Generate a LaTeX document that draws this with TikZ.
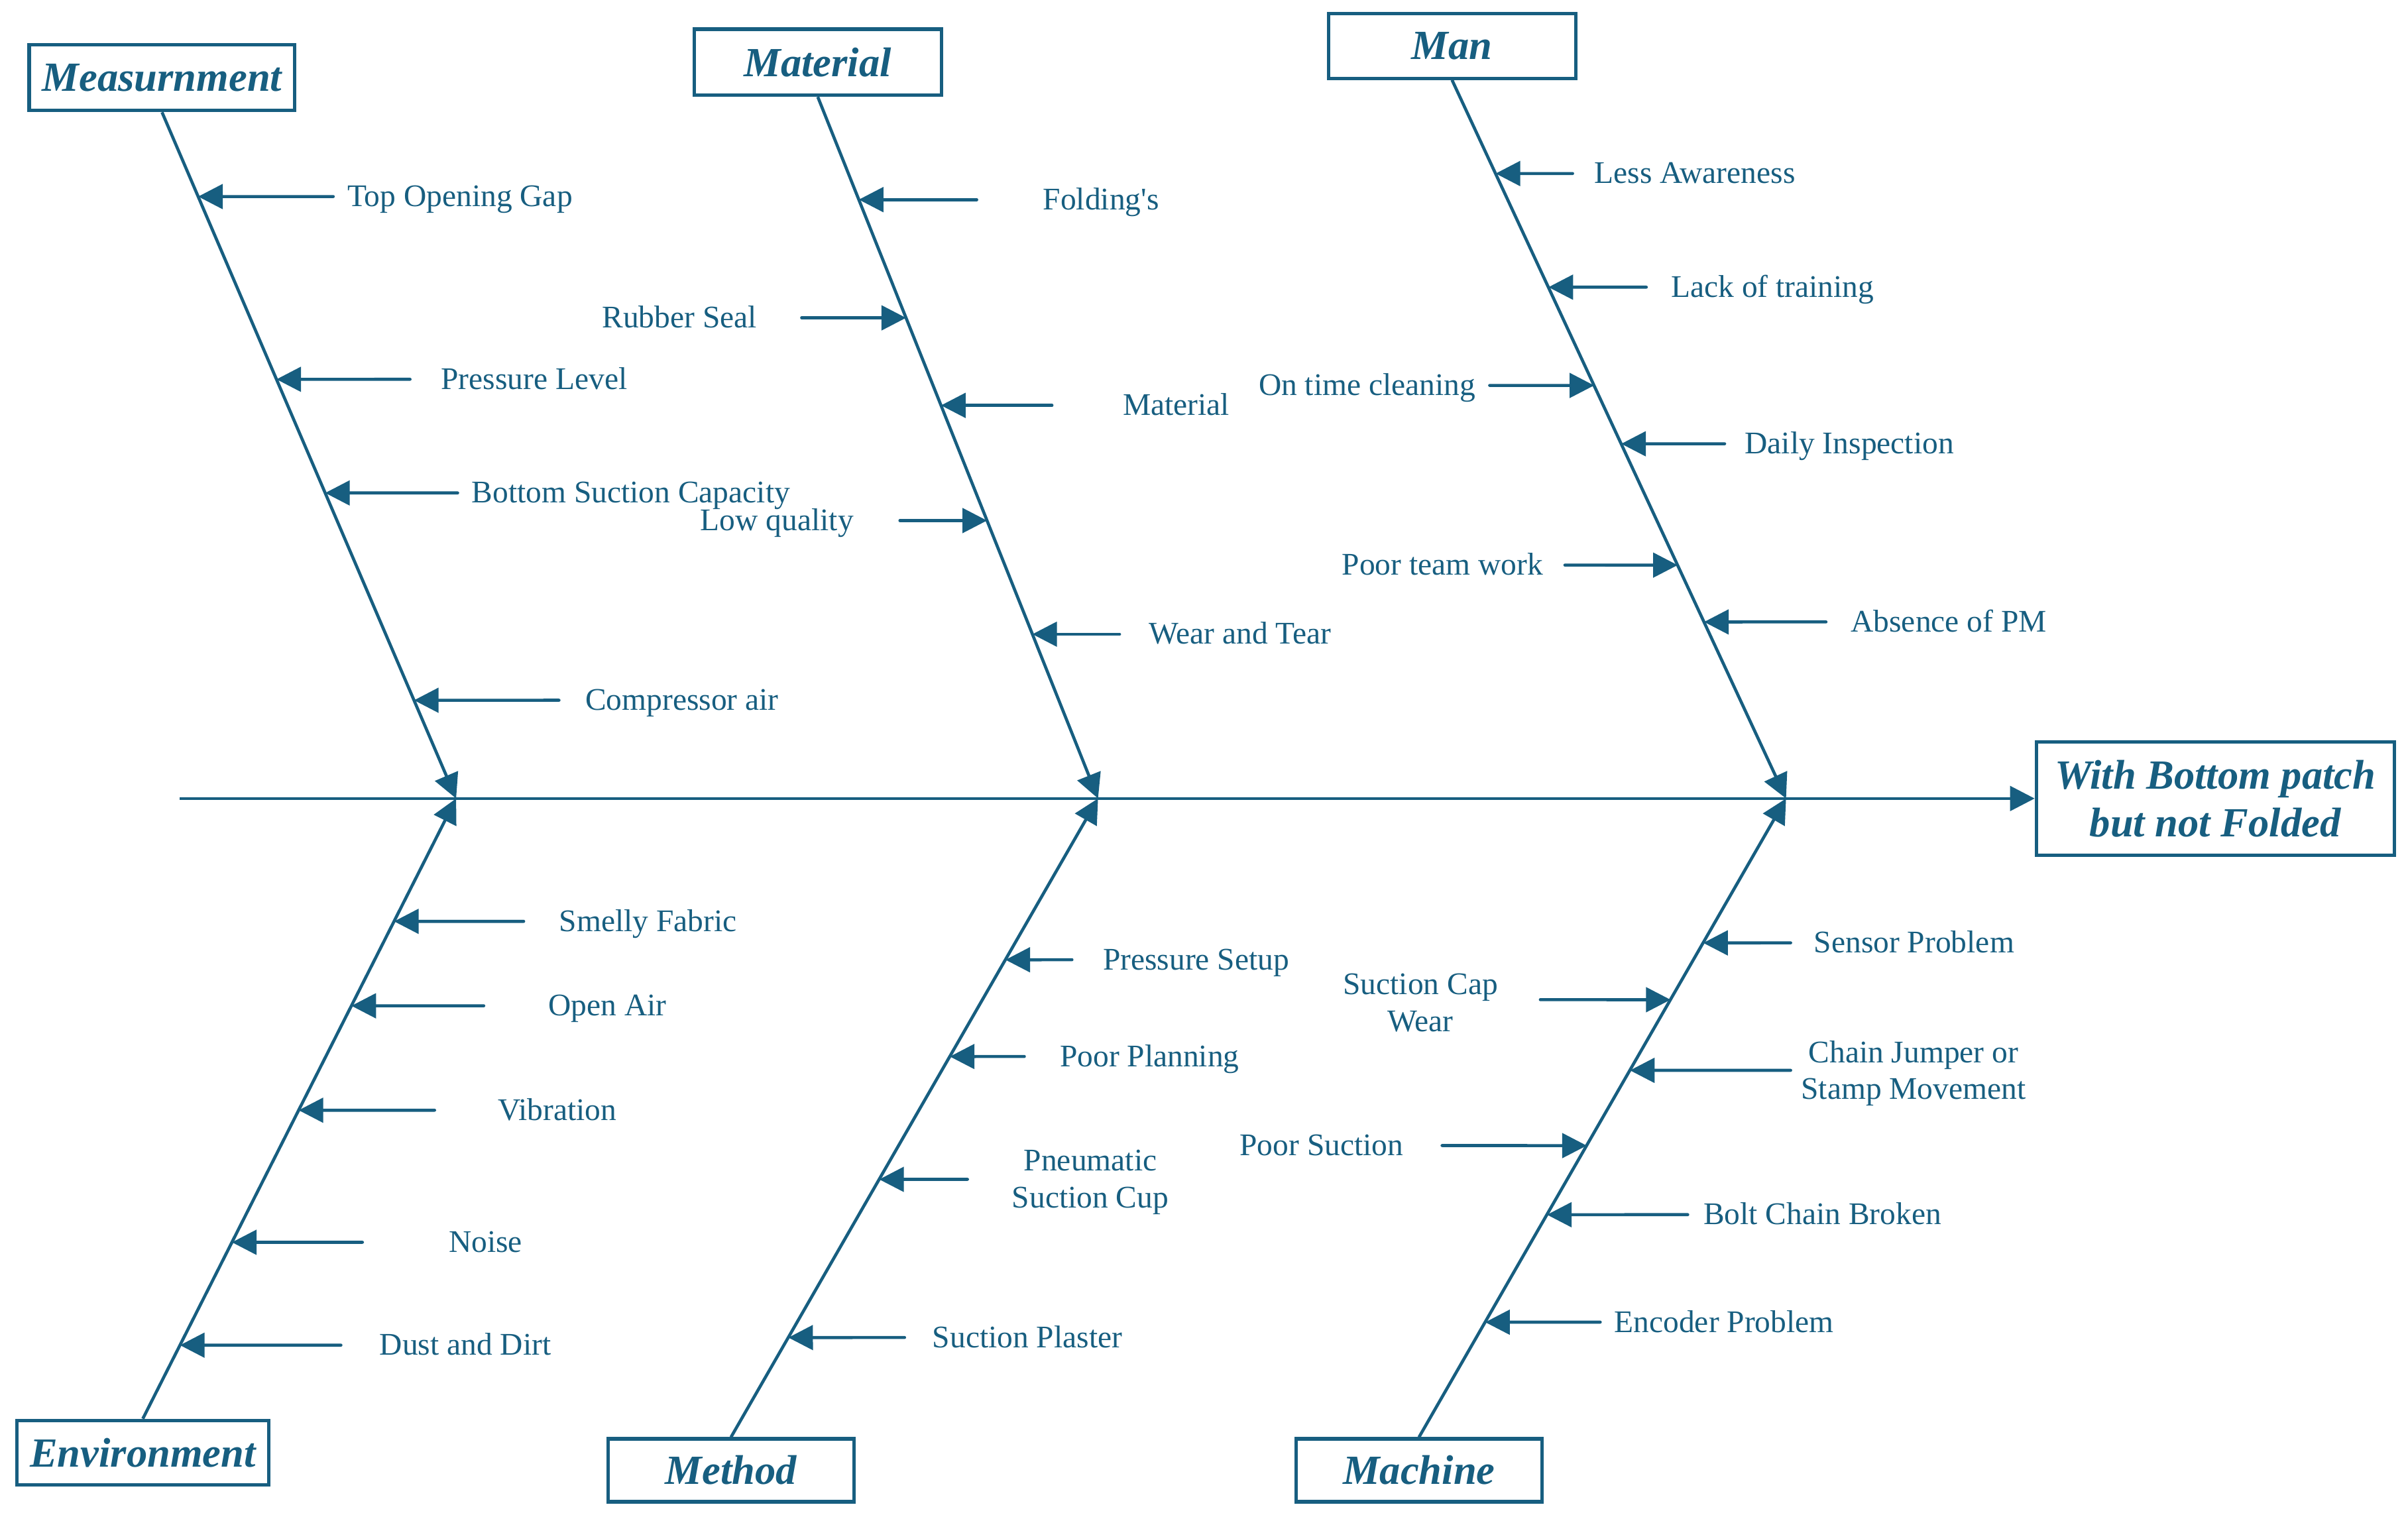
\documentclass[tikz,border=0pt]{standalone}
\usepackage{fontspec}
\setmainfont[Ligatures=TeXOff]{Liberation Serif}
\usetikzlibrary{arrows.meta}
\definecolor{fb}{RGB}{23,94,128}
\newcommand{\cause}[8]{%
  \coordinate (#1-s) at (#5,#4);
  \coordinate (#1-e) at (intersection of #2--#3 and 0,#4--1,#4);
  \node[lbl,#6] (#1) at (#7,#4) {#8};
  \draw[sub] (#1-s) -- (#1-e);
}
\begin{document}
\begin{tikzpicture}[x=1pt,y=-1pt,
  cat/.style={draw=fb, line width=2.2pt, text=fb,
    font=\fontsize{27}{32}\selectfont\bfseries\itshape,
    minimum width=161pt, minimum height=43pt, inner sep=0pt},
  lbl/.style={text=fb, font=\fontsize{20.5}{24}\selectfont, inner sep=0pt,
    text height=13pt, text depth=0pt},
  lbltwo/.style={text height={}, text depth={}, align=center, anchor=center, yshift=-2pt},
  bone/.style={draw=fb, line width=2pt, -{Triangle[length=16pt,width=16pt]}},
  sub/.style={draw=fb, line width=2pt, line cap=round, -{Triangle[length=16pt,width=16pt]}}]
\useasboundingbox (0,0) rectangle (1568,988.8);

% category boxes and effect
\node[cat, minimum width=173pt] (meas) at (105.5,50.5) {Measurnment};
\node[cat] (mat) at (532.5,40.5) {Material};
\node[cat, minimum height=42pt] (man) at (945.5,30) {Man};
\node[cat, minimum width=164pt, minimum height=42pt] (env) at (93,946) {Environment};
\node[cat, minimum width=160pt, minimum height=41pt] (meth) at (476,957.5) {Method};
\node[cat, minimum width=160pt, minimum height=41pt] (mach) at (924,957.5) {Machine};
\node[cat, minimum width=233pt, minimum height=74pt, align=center] (res) at (1442.5,520)
  {With Bottom patch\\[-1pt]but not Folded};

% spine
\coordinate (tail) at (117,520);
\coordinate (j1) at (297,520);
\coordinate (j2) at (715,520);
\coordinate (j3) at (1163,520);
\draw[bone] (tail) -- (res.west);

% bones
\draw[bone] (meas.south) -- (j1);
\draw[bone] (mat.south) -- (j2);
\draw[bone] (man.south) -- (j3);
\draw[bone] (env.north) -- (j1);
\draw[bone] (meth.north) -- (j2);
\draw[bone] (mach.north) -- (j3);

% Measurnment
\cause{m1}{meas.south}{j1}{128}{217}{anchor=west}{226}{Top Opening Gap}
\cause{m2}{meas.south}{j1}{247}{267}{anchor=west}{287}{Pressure Level}
\cause{m3}{meas.south}{j1}{321}{298}{anchor=west}{307}{Bottom Suction Capacity}
\cause{m4}{meas.south}{j1}{456}{364}{anchor=west}{381}{Compressor air}

% Material
\cause{t1}{mat.south}{j2}{130}{636}{anchor=west}{679}{Folding's}
\cause{t2}{mat.south}{j2}{207}{522}{anchor=east}{493}{Rubber Seal}
\cause{t3}{mat.south}{j2}{264}{685}{anchor=west}{731}{Material}
\cause{t4}{mat.south}{j2}{339}{586}{anchor=east}{556}{Low quality}
\cause{t5}{mat.south}{j2}{413}{729}{anchor=west}{748}{Wear and Tear}

% Man
\cause{n1}{man.south}{j3}{113}{1024}{anchor=west}{1038}{Less Awareness}
\cause{n2}{man.south}{j3}{187}{1072}{anchor=west}{1088}{Lack of training}
\cause{n3}{man.south}{j3}{251}{970}{anchor=east}{961}{On time cleaning}
\cause{n4}{man.south}{j3}{289}{1123}{anchor=west}{1136}{Daily Inspection}
\cause{n5}{man.south}{j3}{368}{1019}{anchor=east}{1005}{Poor team work}
\cause{n6}{man.south}{j3}{405}{1189}{anchor=west}{1205}{Absence of PM}

% Environment
\cause{e1}{env.north}{j1}{600}{341}{anchor=west}{364}{Smelly Fabric}
\cause{e2}{env.north}{j1}{655}{315}{anchor=west}{357}{Open Air}
\cause{e3}{env.north}{j1}{723}{283}{anchor=west}{324}{Vibration}
\cause{e4}{env.north}{j1}{809}{236}{anchor=west}{292}{Noise}
\cause{e5}{env.north}{j1}{876}{222}{anchor=west}{247}{Dust and Dirt}

% Method
\cause{d1}{meth.north}{j2}{625}{698}{anchor=west}{718}{Pressure Setup}
\cause{d2}{meth.north}{j2}{688}{667}{anchor=west}{690}{Poor Planning}
\cause{d3}{meth.north}{j2}{768}{630}{lbltwo}{710}{Pneumatic\\Suction Cup}
\cause{d4}{meth.north}{j2}{871}{589}{anchor=west}{607}{Suction Plaster}

% Machine
\cause{c1}{mach.north}{j3}{614}{1166}{anchor=west}{1181}{Sensor Problem}
\cause{c2}{mach.north}{j3}{651}{1003}{lbltwo}{925}{Suction Cap\\Wear}
\cause{c3}{mach.north}{j3}{697}{1166}{lbltwo}{1246}{Chain Jumper or\\Stamp Movement}
\cause{c4}{mach.north}{j3}{746}{939}{anchor=east}{914}{Poor Suction}
\cause{c5}{mach.north}{j3}{791}{1099}{anchor=west}{1109}{Bolt Chain Broken}
\cause{c6}{mach.north}{j3}{861}{1042}{anchor=west}{1051}{Encoder Problem}
\end{tikzpicture}
\end{document}
